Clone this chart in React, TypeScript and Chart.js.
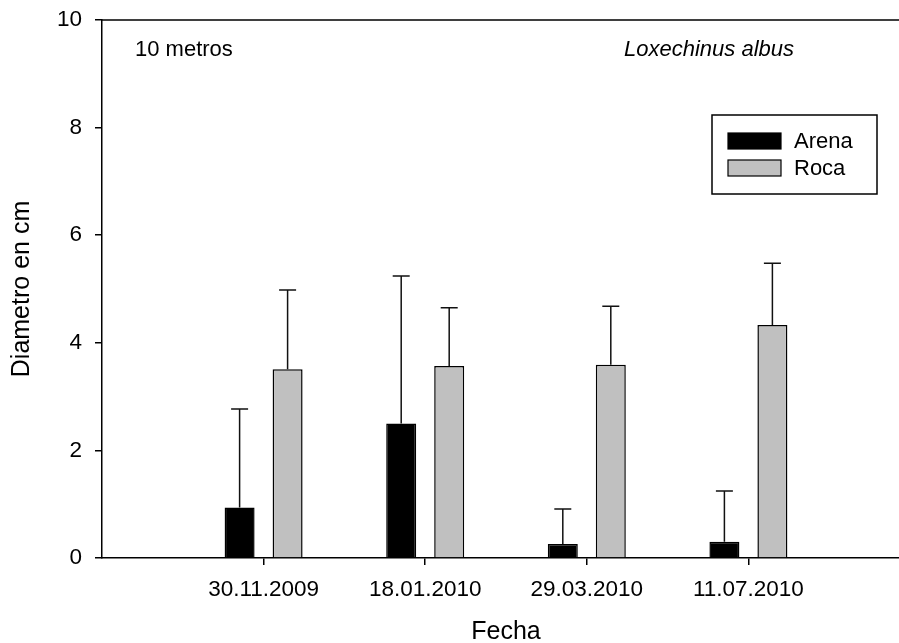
import React, { useEffect, useRef } from "react";
import { Chart, registerables } from "chart.js";

Chart.register(...registerables);

const fechas = ["30.11.2009", "18.01.2010", "29.03.2010", "11.07.2010"];
const arena = [0.94, 2.5, 0.26, 0.3];
const arenaErr = [1.83, 2.74, 0.65, 0.945];
const roca = [3.51, 3.57, 3.59, 4.33];
const rocaErr = [1.47, 1.08, 1.09, 1.15];
const yTicksMin = 0;
const yTicksMax = 10;
const yStep = 2;

const FONT = "'Liberation Sans', Arial, sans-serif";

const errorBarPlugin = {
  id: "errorBars",
  afterDatasetsDraw(chart: any) {
    const ctx = chart.ctx;
    const y = chart.scales.y;
    chart.data.datasets.forEach((ds: any, di: number) => {
      const meta = chart.getDatasetMeta(di);
      const errs = ds.errors as (number | null)[];
      meta.data.forEach((el: any, i: number) => {
        const v = ds.data[i];
        const e = errs[i];
        if (v == null || e == null) return;
        const x = el.x;
        const y0 = y.getPixelForValue(v);
        const y1 = y.getPixelForValue(v + e);
        ctx.save();
        ctx.strokeStyle = "#111";
        ctx.lineWidth = 1.5;
        ctx.beginPath();
        ctx.moveTo(x, y0);
        ctx.lineTo(x, y1);
        ctx.moveTo(x - 8.5, y1);
        ctx.lineTo(x + 8.5, y1);
        ctx.stroke();
        ctx.restore();
      });
    });
  },
};

const decorPlugin = {
  id: "decor",
  afterDraw(chart: any) {
    const ctx = chart.ctx;
    const a = chart.chartArea;
    ctx.save();
    // frame top and right
    ctx.strokeStyle = "#000";
    ctx.lineWidth = 1.5;
    ctx.beginPath();
    ctx.moveTo(a.left, a.top);
    ctx.lineTo(a.right, a.top);
    ctx.lineTo(a.right, a.bottom);
    ctx.stroke();

    // annotations
    ctx.fillStyle = "#000";
    ctx.textBaseline = "middle";
    ctx.textAlign = "left";
    ctx.font = `22px ${FONT}`;
    ctx.fillText("10 metros", a.left + 33, a.top + 30);
    ctx.font = `italic 22px ${FONT}`;
    ctx.fillText("Loxechinus albus", a.left + 522, a.top + 30);

    // legend
    const bx = a.right - 198;
    const by = a.top + 95;
    ctx.lineWidth = 1.5;
    ctx.strokeStyle = "#000";
    ctx.strokeRect(bx, by, 165, 79);
    chart.data.datasets.forEach((ds: any, i: number) => {
      const sy = by + 18 + i * 27;
      ctx.fillStyle = ds.backgroundColor;
      ctx.fillRect(bx + 16, sy, 53, 16);
      ctx.lineWidth = 1.2;
      ctx.strokeStyle = "#000";
      ctx.strokeRect(bx + 16, sy, 53, 16);
      ctx.fillStyle = "#000";
      ctx.font = `22px ${FONT}`;
      ctx.textAlign = "left";
      ctx.textBaseline = "middle";
      ctx.fillText(ds.label, bx + 82, sy + 9);
    });
    ctx.restore();
  },
};

export default function App() {
  const ref = useRef<HTMLCanvasElement>(null);

  useEffect(() => {
    if (!ref.current) return;
    const labels = ["", ...fechas, ""];
    const chart = new Chart(ref.current, {
      type: "bar",
      data: {
        labels,
        datasets: [
          {
            label: "Arena",
            data: [null, ...arena, null],
            errors: [null, ...arenaErr, null],
            backgroundColor: "#000000",
            borderColor: "#000000",
            borderWidth: 1.5,
            categoryPercentage: 0.594,
            barPercentage: 0.625,
          } as any,
          {
            label: "Roca",
            data: [null, ...roca, null],
            errors: [null, ...rocaErr, null],
            backgroundColor: "#c0c0c0",
            borderColor: "#000000",
            borderWidth: 1.5,
            categoryPercentage: 0.594,
            barPercentage: 0.625,
          } as any,
        ],
      },
      options: {
        responsive: false,
        animation: false,
        layout: { padding: { top: 20, right: 20, left: 0, bottom: 0 } },
        plugins: {
          legend: { display: false },
          tooltip: { enabled: false },
        },
        scales: {
          x: {
            type: "category",
            offset: false,
            grid: {
              offset: false,
              drawOnChartArea: false,
              drawTicks: true,
              tickLength: 7,
              lineWidth: 1.5,
              color: (c: any) => (labels[c.index] ? "#000" : "rgba(0,0,0,0)"),
            },
            border: { display: true, color: "#000", width: 1.5 },
            ticks: {
              color: "#000",
              font: { family: FONT, size: 22.5 },
              padding: 11,
              maxRotation: 0,
              autoSkip: false,
            },
            title: {
              display: true,
              text: "Fecha",
              color: "#000",
              font: { family: FONT, size: 25 },
              padding: { top: 0, bottom: 13 },
            },
            afterFit: (s: any) => {
              s.height = 102;
              s.paddingLeft = 0;
              s.paddingRight = 0;
            },
          },
          y: {
            min: yTicksMin,
            max: yTicksMax,
            grid: {
              drawOnChartArea: false,
              drawTicks: true,
              tickLength: 7,
              lineWidth: 1.5,
              color: "#000",
            },
            border: { display: true, color: "#000", width: 1.5 },
            ticks: {
              stepSize: yStep,
              color: "#000",
              font: { family: FONT, size: 22.5 },
              padding: 13,
            },
            title: {
              display: true,
              text: "Diametro en cm",
              color: "#000",
              font: { family: FONT, size: 25 },
              padding: { top: 7, bottom: 0 },
            },
            afterFit: (s: any) => {
              s.width = 102;
              s.paddingTop = 0;
              s.paddingBottom = 0;
            },
          },
        },
      },
      plugins: [errorBarPlugin, decorPlugin],
    } as any);
    return () => chart.destroy();
  }, []);

  return (
    <div
      style={{
        position: "fixed",
        left: 0,
        top: 0,
        width: 899,
        height: 643,
        overflow: "hidden",
        background: "#fff",
      }}
    >
      <canvas
        ref={ref}
        width={930}
        height={660}
        style={{ display: "block", width: 930, height: 660 }}
      />
    </div>
  );
}
